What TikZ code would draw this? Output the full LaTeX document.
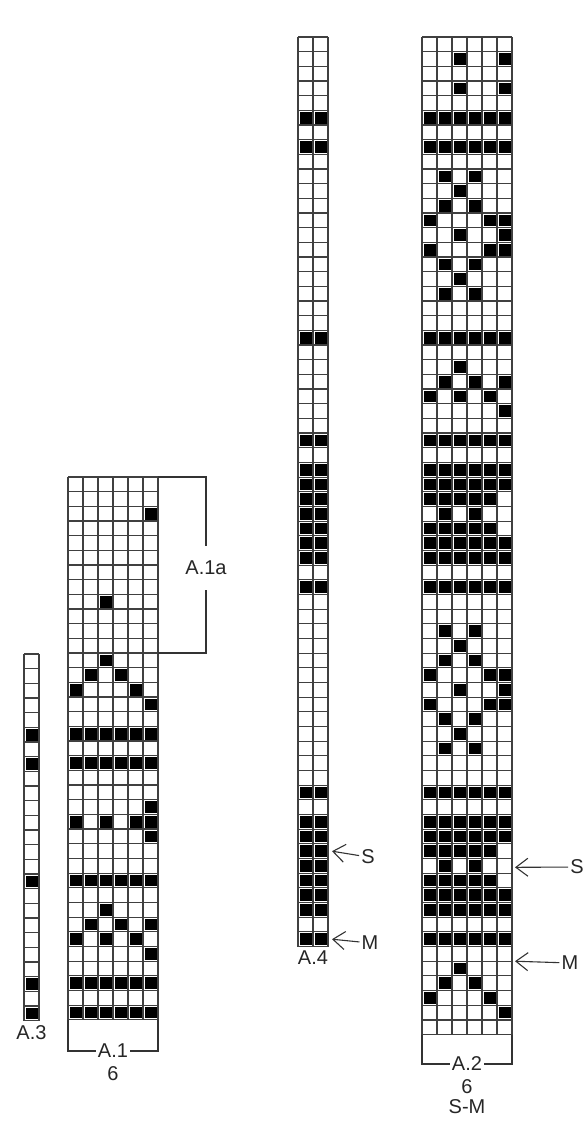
\documentclass[tikz,border=0pt]{standalone}
\usepackage{fontspec}
\setsansfont{Liberation Sans}
\usetikzlibrary{arrows.meta}
\tikzset{
    gridline/.style = {draw=black!75, line width=1.2pt},
    stitch/.style = {fill=black},
    lbl/.style = {font=\sffamily\fontsize{20}{20}\selectfont, text=black!85, inner sep=2pt},
    brk/.style = {draw=black!80, line width=1.1pt},
    ptr/.style = {draw=black!80, line width=1.1pt, -{Straight Barb[length=12pt,width=18pt]}},
}
\newcommand\cellw{15}
\newcommand\cellh{14.67}

\begin{document}
\begin{tikzpicture}[x=1pt, y=-1pt]
\useasboundingbox (0,0) rectangle (585,1128);

% A.2, 6 sts x 68 rows
\begin{scope}[shift={(422,37)}]
  \foreach \r in {6,8,21,28,30,31,35,36,38,52,54,55,59,60,62}
    \foreach \k in {1,...,6}
      \fill[stitch] ({(\k-1)*\cellw+1.5},{(\r-1)*\cellh+1.5}) rectangle ++({\cellw-3},{\cellh-3});
  \foreach \r in {32,34,56,58}
    \foreach \k in {1,...,5}
      \fill[stitch] ({(\k-1)*\cellw+1.5},{(\r-1)*\cellh+1.5}) rectangle ++({\cellw-3},{\cellh-3});
  \foreach \k/\r in {3/2,6/2,3/4,6/4,3/23,2/24,4/24,6/24,1/25,3/25,5/25,6/26,
                     2/33,4/33,2/57,4/57,3/64,2/65,4/65,1/66,5/66,6/67}
    \fill[stitch] ({(\k-1)*\cellw+1.5},{(\r-1)*\cellh+1.5}) rectangle ++({\cellw-3},{\cellh-3});
  % diamonds
  \foreach \off in {9,40}
    \foreach \k/\r in {2/1,4/1,3/2,2/3,4/3,1/4,5/4,6/4,3/5,6/5,1/6,5/6,6/6,2/7,4/7,3/8,2/9,4/9}
      \fill[stitch] ({(\k-1)*\cellw+1.5},{(\r+\off-1)*\cellh+1.5}) rectangle ++({\cellw-3},{\cellh-3});
  \foreach \i in {0,...,68} \draw[gridline] (0,{\i*\cellh}) -- ({6*\cellw},{\i*\cellh});
  \foreach \k in {0,...,6} \draw[gridline] ({\k*\cellw},0) -- ({\k*\cellw},{68*\cellh});
  \coordinate (a2bl) at (0,{68*\cellh});
  \coordinate (a2br) at ({6*\cellw},{68*\cellh});
  \coordinate (a2s) at ({6*\cellw+3},{56.6*\cellh});
  \coordinate (a2m) at ({6*\cellw+3},{63*\cellh});
\end{scope}

% A.4, 2 sts x 62 rows
\begin{scope}[shift={(298,37)}]
  \foreach \r in {6,8,21,28,30,31,32,33,34,35,36,38,52,54,55,56,57,58,59,60,62}
    \foreach \k in {1,2}
      \fill[stitch] ({(\k-1)*\cellw+1.5},{(\r-1)*\cellh+1.5}) rectangle ++({\cellw-3},{\cellh-3});
  \foreach \i in {0,...,62} \draw[gridline] (0,{\i*\cellh}) -- ({2*\cellw},{\i*\cellh});
  \foreach \k in {0,1,2} \draw[gridline] ({\k*\cellw},0) -- ({\k*\cellw},{62*\cellh});
  \coordinate (a4b) at (\cellw,{62*\cellh});
  \coordinate (a4s) at ({2*\cellw+4},{55.5*\cellh});
  \coordinate (a4m) at ({2*\cellw+4},{61.5*\cellh});
\end{scope}

% A.1, 6 sts x 37 rows
\begin{scope}[shift={(68,477)}]
  \foreach \r in {18,20,28,35,37}
    \foreach \k in {1,...,6}
      \fill[stitch] ({(\k-1)*\cellw+1.5},{(\r-1)*\cellh+1.5}) rectangle ++({\cellw-3},{\cellh-3});
  \foreach \k/\r in {6/3,3/9,3/13,2/14,4/14,1/15,5/15,6/16,6/23,1/24,3/24,5/24,6/24,6/25,
                     3/30,2/31,4/31,6/31,1/32,3/32,5/32,6/33}
    \fill[stitch] ({(\k-1)*\cellw+1.5},{(\r-1)*\cellh+1.5}) rectangle ++({\cellw-3},{\cellh-3});
  \foreach \i in {0,...,37} \draw[gridline] (0,{\i*\cellh}) -- ({6*\cellw},{\i*\cellh});
  \foreach \k in {0,...,6} \draw[gridline] ({\k*\cellw},0) -- ({\k*\cellw},{37*\cellh});
  \coordinate (a1tr) at ({6*\cellw},0);
  \coordinate (a1mr) at ({6*\cellw},{12*\cellh});
  \coordinate (a1bl) at (0,{37*\cellh});
  \coordinate (a1br) at ({6*\cellw},{37*\cellh});
\end{scope}

% A.3, 1 st x 25 rows
\begin{scope}[shift={(24,654)}]
  \foreach \r in {6,8,16,23,25}
    \fill[stitch] (1.5,{(\r-1)*\cellh+1.5}) rectangle ++({\cellw-3},{\cellh-3});
  \foreach \i in {0,...,25} \draw[gridline] (0,{\i*\cellh}) -- (\cellw,{\i*\cellh});
  \foreach \k in {0,1} \draw[gridline] ({\k*\cellw},0) -- ({\k*\cellw},{25*\cellh});
  \coordinate (a3b) at ({0.5*\cellw},{25*\cellh});
\end{scope}

% labels
\node[lbl, inner ysep=15pt] (a1a) at (206,568) {A.1a};
\node[lbl] (a1lbl) at (113,1051) {A.1};
\node[lbl, below=4pt] (a1n) at (a1lbl.south) {6};
\node[lbl] (a2lbl) at (467,1064) {A.2};
\node[lbl, below=4pt] (a2n) at (a2lbl.south) {6};
\node[lbl, below=2pt] (a2sz) at (a2n.south) {S-M};
\node[lbl, below=3pt] (a3lbl) at (a3b) {A.3};
\node[lbl, below=2pt] (a4lbl) at (a4b) {A.4};
\node[lbl] (s4) at (368,857) {S};
\node[lbl] (m4) at (370,943) {M};
\node[lbl] (s2) at (577,867) {S};
\node[lbl] (m2) at (570,963) {M};

% brackets
\draw[brk] (a1tr) -| (a1a.north);
\draw[brk] (a1a.south) |- (a1mr);
\draw[brk] (a1bl) |- (a1lbl.west);
\draw[brk] (a1br) |- (a1lbl.east);
\draw[brk] (a2bl) |- (a2lbl.west);
\draw[brk] (a2br) |- (a2lbl.east);

% arrows
\draw[ptr] (s4) -- (a4s);
\draw[ptr] (m4) -- (a4m);
\draw[ptr] (s2) -- (a2s);
\draw[ptr] (m2) -- (a2m);
\end{tikzpicture}
\end{document}
